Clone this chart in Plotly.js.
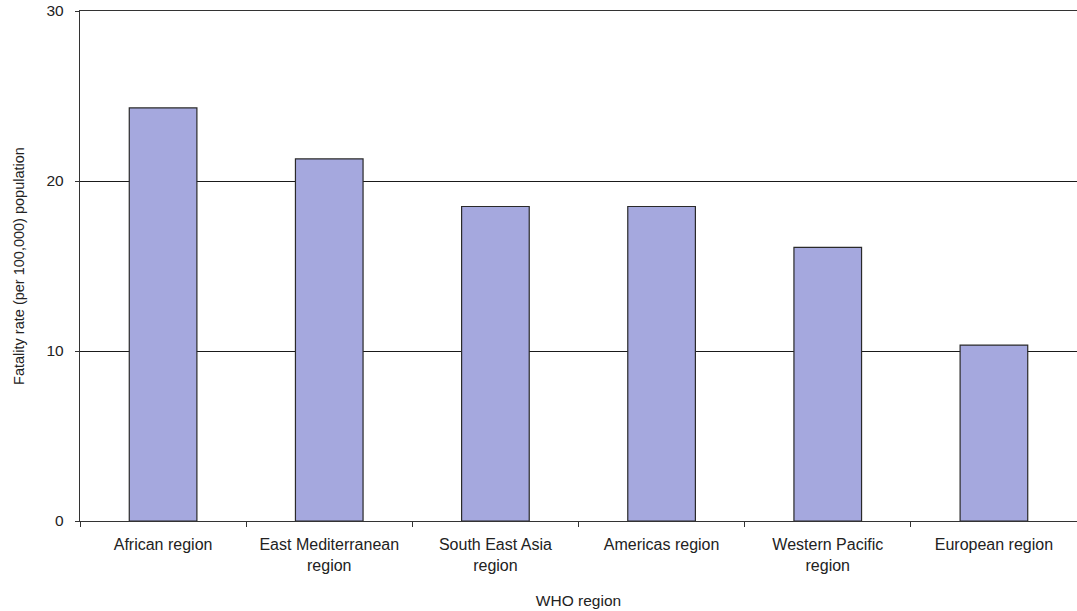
<!DOCTYPE html>
<html>
<head>
<meta charset="utf-8">
<script src="https://cdn.plot.ly/plotly-3.0.1.min.js"></script>
<style>html,body{margin:0;padding:0;background:#fff;}#chart{width:1077px;height:611px;}</style>
</head>
<body>
<div id="chart"></div>
<script>
const categories = ["African region", "East Mediterranean<br>region", "South East Asia<br>region", "Americas region", "Western Pacific<br>region", "European region"];
const fatalityRates = [24.3, 21.3, 18.5, 18.5, 16.1, 10.35];
const yTicks = [0, 10, 20, 30];

const trace = {
  type: "bar",
  x: categories,
  y: fatalityRates,
  width: 0.407,
  marker: {color: "#a5a8de", line: {color: "#2a2a2a", width: 1.2}},
  hoverinfo: "x+y"
};

const layout = {
  width: 1077, height: 611,
  margin: {l: 80, r: 0, t: 11, b: 90},
  paper_bgcolor: "#fff", plot_bgcolor: "#fff",
  font: {family: "Liberation Sans, Arial, sans-serif", size: 15, color: "#222"},
  showlegend: false,
  xaxis: {
    type: "category",
    tickson: "boundaries",
    ticks: "outside", ticklen: 5, tickcolor: "#333", tickwidth: 1,
    showline: true, linecolor: "#333", linewidth: 1.2, mirror: true,
    showgrid: false,
    ticklabelstandoff: 9,
    tickfont: {size: 16, color: "#222"},
    title: {text: "WHO region", font: {size: 15.5, color: "#222"}, standoff: 22}
  },
  yaxis: {
    range: [0, 30],
    tickvals: yTicks,
    ticktext: yTicks.map(String),
    ticks: "outside", ticklen: 4, tickcolor: "#333",
    showline: true, linecolor: "#333", linewidth: 1.2,
    showgrid: true, gridcolor: "#1a1a1a", gridwidth: 1,
    zeroline: false,
    ticklabelstandoff: 8,
    tickfont: {size: 15.5, color: "#222"},
    title: {text: "Fatality rate (per 100,000) population", font: {size: 14.5, color: "#222"}, standoff: 18}
  }
};

Plotly.newPlot("chart", [trace], layout, {displayModeBar: false, staticPlot: true});
</script>
</body>
</html>
